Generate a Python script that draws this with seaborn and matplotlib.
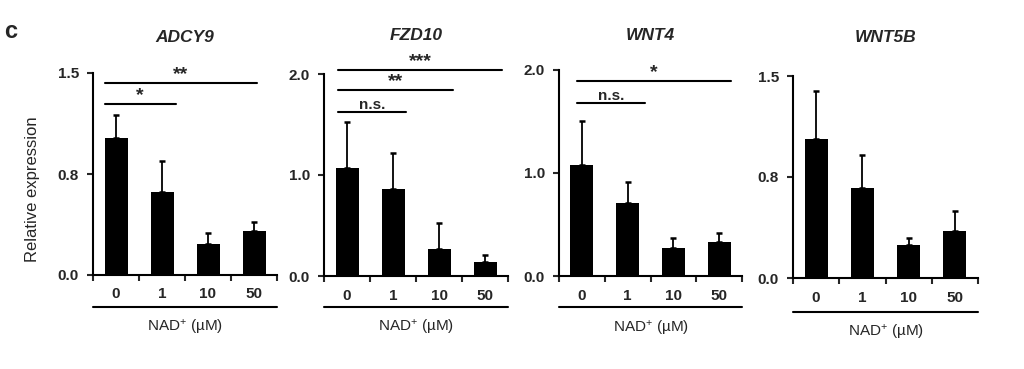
import matplotlib
matplotlib.use("Agg")
import matplotlib.pyplot as plt
import seaborn as sns
import pandas as pd

sns.set_style("ticks")
plt.rcParams['font.family'] = ['Liberation Sans', 'DejaVu Sans']
plt.rcParams['mathtext.default'] = 'regular'

# dados
doses = ['0', '1', '10', '50']
genes = ['ADCY9', 'FZD10', 'WNT4', 'WNT5B']
media = {
    'ADCY9': [1.02, 0.62, 0.23, 0.33],
    'FZD10': [1.07, 0.86, 0.27, 0.14],
    'WNT4':  [1.08, 0.71, 0.27, 0.33],
    'WNT5B': [1.03, 0.67, 0.245, 0.35],
}
erro = {
    'ADCY9': [0.17, 0.23, 0.08, 0.06],
    'FZD10': [0.45, 0.36, 0.255, 0.07],
    'WNT4':  [0.42, 0.20, 0.10, 0.09],
    'WNT5B': [0.36, 0.24, 0.055, 0.15],
}
ymax = {'ADCY9': 1.5, 'FZD10': 2.0, 'WNT4': 2.0, 'WNT5B': 1.5}
# barras de significância: (x inicio, x fim, y, texto)
signif = {
    'ADCY9': [(-0.25, 1.30, 1.27, '*'), (-0.25, 3.07, 1.425, '**')],
    'FZD10': [(-0.20, 1.28, 1.62, 'n.s.'), (-0.20, 2.30, 1.84, '**'), (-0.20, 3.37, 2.04, '***')],
    'WNT4':  [(-0.11, 1.38, 1.68, 'n.s.'), (-0.11, 3.26, 1.89, '*')],
    'WNT5B': [],
}

W, H = 1024, 369
# caixas dos eixos em pixels: esquerda, direita, topo, base
caixas = [(93, 277, 73, 275), (324, 508, 74, 276), (559, 742, 70, 276), (793, 978, 76, 278)]
titulo_y = [37, 35, 35, 37]
linha_y = [307, 307, 307, 312]
rotulo_y = [328, 328, 328, 333]

fig = plt.figure(figsize=(W / 100, H / 100), dpi=100)

for i, gene in enumerate(genes):
    l, r, t, b = caixas[i]
    ax = fig.add_axes([l / W, 1 - b / H, (r - l) / W, (b - t) / H])
    df = pd.DataFrame({'dose': doses, 'valor': media[gene]})
    sns.barplot(data=df, x='dose', y='valor', order=doses, color='black',
                saturation=1, width=0.5, linewidth=0, errorbar=None, ax=ax)
    ax.errorbar(range(len(doses)), media[gene], yerr=[[0] * len(doses), erro[gene]],
                fmt='none', ecolor='black', elinewidth=1.3, capsize=2.5, capthick=1.8)

    ax.set_xlim(-0.5, 3.5)
    ax.set_ylim(0, ymax[gene])
    if ymax[gene] == 1.5:
        ax.set_yticks([0, 0.75, 1.5])
        ax.set_yticklabels(['0.0', '0.8', '1.5'])
    else:
        ax.set_yticks([0, 1, 2])
        ax.set_yticklabels(['0.0', '1.0', '2.0'])
    ax.set_xticks(range(len(doses)))
    ax.set_xticklabels(doses)
    ax.set_xticks([-0.5, 0.5, 1.5, 2.5, 3.5], minor=True)
    ax.tick_params(axis='x', which='major', length=0, pad=9, labelsize=11)
    ax.tick_params(axis='x', which='minor', length=4, width=1.5, direction='out')
    ax.tick_params(axis='y', length=4, width=1.5, direction='out', pad=6, labelsize=11)
    for lab in ax.get_xticklabels() + ax.get_yticklabels():
        lab.set_fontweight('bold')
    ax.set_xlabel('')
    ax.set_ylabel('')
    sns.despine(ax=ax)
    for s in ['left', 'bottom']:
        ax.spines[s].set_linewidth(1.5)
        ax.spines[s].set_color('black')

    for x0, x1, y, txt in signif[gene]:
        ax.plot([x0, x1], [y, y], color='black', lw=1.5, clip_on=False)
        tam = 11 if txt == 'n.s.' else 14
        ax.text((x0 + x1) / 2, y, txt, ha='center', va='bottom',
                fontsize=tam, fontweight='bold')

    # linha abaixo dos rótulos e legenda do eixo x
    yl = (b - linha_y[i]) / (b - t)
    ax.plot([0, 1], [yl, yl], color='black', lw=1.5, transform=ax.transAxes, clip_on=False)
    ax.text(0.5, (b - rotulo_y[i]) / (b - t), 'NAD$^{+}$ (µM)', ha='center', va='center',
            fontsize=11, transform=ax.transAxes)

    fig.text((l + r) / 2 / W, 1 - titulo_y[i] / H, gene, ha='center', va='center',
             fontsize=12.5, fontweight='bold', fontstyle='italic')

fig.text(33 / W, 1 - 189 / H, 'Relative expression', rotation=90, ha='center', va='center',
         fontsize=12)
fig.text(11 / W, 1 - 31 / H, 'c', ha='center', va='center', fontsize=17, fontweight='bold')

fig.savefig('out.png', dpi=100)
